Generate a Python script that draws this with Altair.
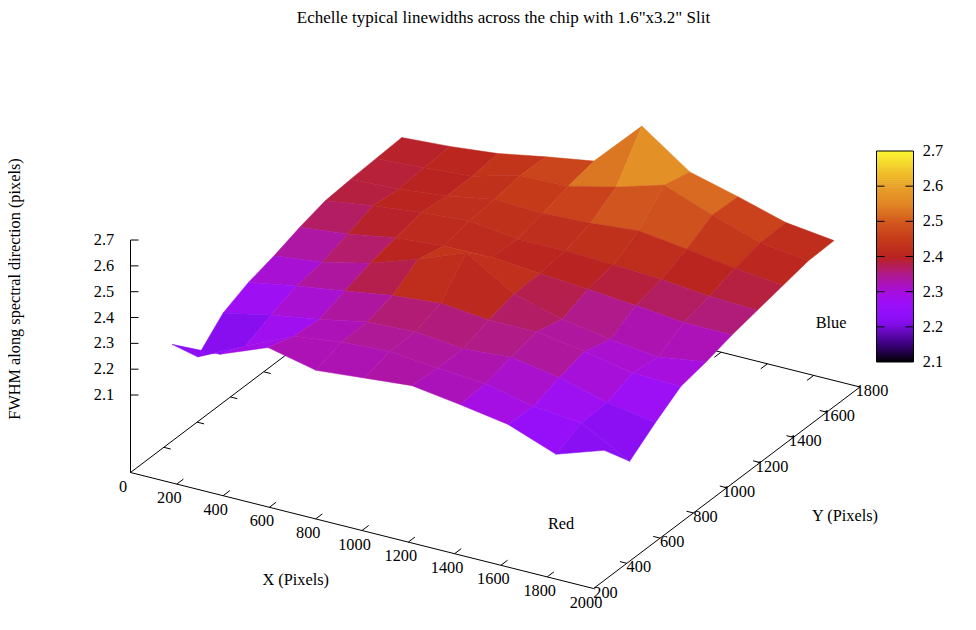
import altair as alt
import pandas as pd

# ---------- data ----------
X_GRID = [100, 307, 515, 722, 930, 1137, 1344, 1552, 1759, 1967]
Y_GRID = [310, 463, 617, 770, 923, 1077, 1230, 1383, 1536, 1690]
# rows follow Y_GRID (near to far), columns follow X_GRID
Z_ROW_0 = [2.265, 2.273, 2.346, 2.304, 2.321, 2.338, 2.311, 2.281, 2.212, 2.274]
Z_ROW_1 = [2.142, 2.230, 2.315, 2.339, 2.349, 2.332, 2.317, 2.276, 2.258, 2.157]
Z_ROW_2 = [2.237, 2.275, 2.306, 2.341, 2.350, 2.331, 2.345, 2.313, 2.263, 2.231]
Z_ROW_3 = [2.281, 2.313, 2.340, 2.369, 2.386, 2.368, 2.369, 2.339, 2.302, 2.297]
Z_ROW_4 = [2.309, 2.330, 2.373, 2.435, 2.507, 2.394, 2.343, 2.311, 2.290, 2.318]
Z_ROW_5 = [2.344, 2.365, 2.397, 2.411, 2.415, 2.398, 2.384, 2.367, 2.348, 2.346]
Z_ROW_6 = [2.372, 2.399, 2.420, 2.435, 2.411, 2.412, 2.404, 2.394, 2.375, 2.368]
Z_ROW_7 = [2.381, 2.390, 2.409, 2.443, 2.436, 2.444, 2.461, 2.437, 2.409, 2.389]
Z_ROW_8 = [2.387, 2.397, 2.411, 2.461, 2.466, 2.509, 2.563, 2.494, 2.434, 2.410]
Z_ROW_9 = [2.393, 2.405, 2.424, 2.458, 2.488, 2.670, 2.539, 2.490, 2.436, 2.413]
Z_ROWS = [Z_ROW_0, Z_ROW_1, Z_ROW_2, Z_ROW_3, Z_ROW_4, Z_ROW_5, Z_ROW_6, Z_ROW_7, Z_ROW_8, Z_ROW_9]

X_TICKS = [0, 200, 400, 600, 800, 1000, 1200, 1400, 1600, 1800, 2000]
Y_TICKS = [200, 400, 600, 800, 1000, 1200, 1400, 1600, 1800]
Z_TICKS = [2.1, 2.2, 2.3, 2.4, 2.5, 2.6, 2.7]
CB_TICKS = [2.2, 2.3, 2.4, 2.5, 2.6]
CB_LABELS = [2.1, 2.2, 2.3, 2.4, 2.5, 2.6, 2.7]

# colour bar
PAL_Z = [2.10, 2.15, 2.185, 2.21, 2.235, 2.27, 2.30, 2.325, 2.35, 2.375, 2.40, 2.45, 2.50, 2.55, 2.60, 2.65, 2.70]
PAL_C = ["#000000", "#3a0078", "#6208b8", "#820ee8", "#900ffa", "#9c0ff8", "#a60fe0", "#ac12b8", "#b01a8e",
         "#b41e58", "#b92320", "#c53a1a", "#d2581e", "#e08524", "#e8a028", "#f2c82c", "#fcf532"]

TITLE = 'Echelle typical linewidths across the chip with 1.6"x3.2" Slit'
FONT = "Liberation Serif"
FS = 16.3

# ---------- gnuplot-like view: affine projection, in page pixels ----------
W, H = 960, 614
M = 8
OX, OY = 130.5, 472.5
EX = (463 / 2000, 116 / 2000)
EY = (266.5 / 1600, -201.5 / 1600)
ZSCALE = 258.3
ZBASE = 1.8


def proj(x, y, z=ZBASE):
    return (
        OX + EX[0] * x + EY[0] * (y - 200) - M,
        OY + EX[1] * x + EY[1] * (y - 200) - ZSCALE * (z - ZBASE) - M,
    )


color_scale = alt.Scale(domain=PAL_Z, range=PAL_C, clamp=True, interpolate="rgb")

# ---------- surface quads, far to near ----------
features = []
for r in range(len(Y_GRID) - 2, -1, -1):
    for c in range(len(X_GRID) - 1):
        corners = [(r, c), (r, c + 1), (r + 1, c + 1), (r + 1, c)]
        pts = [list(proj(X_GRID[j], Y_GRID[i], Z_ROWS[i][j])) for i, j in corners]
        mean = sum(Z_ROWS[i][j] for i, j in corners) / 4
        features.append(
            {
                "type": "Feature",
                "properties": {"z": mean},
                "geometry": {"type": "Polygon", "coordinates": [pts + [pts[0]]]},
            }
        )

# ---------- axes box and ticks ----------
segs = []


def seg(a, b):
    segs.append({"x": a[0], "y": a[1], "x2": b[0], "y2": b[1]})


p00, p10 = proj(0, 200), proj(2000, 200)
p11, p01 = proj(2000, 1800), proj(0, 1800)
seg(p00, p10)
seg(p10, p11)
seg(p11, p01)
seg(p01, p00)
seg(p00, proj(0, 200, 2.7))
for v in X_TICKS[1:-1]:
    a, b = proj(v, 200), proj(v, 1800)
    seg(a, proj(v, 240))
    seg(b, proj(v, 1760))
for v in Y_TICKS[1:-1]:
    a, b = proj(2000, v), proj(0, v)
    seg(a, proj(1970, v))
    seg(b, proj(30, v))
for v in Z_TICKS:
    a = proj(0, 200, v)
    seg(a, (a[0] + 8, a[1]))

# ---------- colour bar ----------
CB_L, CB_R, CB_T, CB_B = 876.5 - M, 913.5 - M, 151 - M, 362 - M


def cb_y(v):
    return CB_B + (CB_T - CB_B) * (v - 2.1) / 0.6


N_STRIP = 105
strips = []
for i in range(N_STRIP):
    v0 = 2.1 + 0.6 * i / N_STRIP
    v1 = 2.1 + 0.6 * (i + 1) / N_STRIP
    strips.append(
        {"x": CB_L, "x2": CB_R, "y": min(CB_B, cb_y(v0) + 0.7), "y2": cb_y(v1), "v": (v0 + v1) / 2}
    )

bar_ticks = []
for v in CB_TICKS:
    bar_ticks.append({"x": CB_L, "y": cb_y(v), "x2": CB_L + 8, "y2": cb_y(v)})
    bar_ticks.append({"x": CB_R - 8, "y": cb_y(v), "x2": CB_R, "y2": cb_y(v)})

# ---------- text ----------
texts = []


def txt(x, y, s):
    texts.append({"x": x, "y": y, "t": s})


txt(295.7 - M, 580 - M, "X (Pixels)")
txt(845 - M, 515.5 - M, "Y (Pixels)")
txt(561 - M, 524 - M, "Red")
txt(831 - M, 323 - M, "Blue")
for v in X_TICKS:
    p = proj(v, 200)
    txt(p[0] - 7.5, p[1] + 14, str(v))
for v in Y_TICKS:
    p = proj(2000, v)
    txt(p[0] + 12, p[1] + 4, str(v))
for v in Z_TICKS:
    p = proj(0, 200, v)
    txt(p[0] - 26.5, p[1], f"{v:.1f}")
for v in CB_LABELS:
    txt(933 - M, cb_y(v), f"{v:.1f}")

sx = alt.Scale(domain=[0, W], range=[0, W])
sy = alt.Scale(domain=[0, H], range=[0, H])
X = alt.X("x:Q", scale=sx, axis=None)
Y = alt.Y("y:Q", scale=sy, axis=None)

lines = (
    alt.Chart(pd.DataFrame(segs))
    .mark_rule(color="black", strokeWidth=1)
    .encode(x=X, y=Y, x2="x2:Q", y2="y2:Q")
)

surface = (
    alt.Chart(alt.Data(values=features))
    .mark_geoshape(strokeWidth=0.5)
    .encode(
        fill=alt.Fill("properties.z:Q", scale=color_scale, legend=None),
        stroke=alt.Stroke("properties.z:Q", scale=color_scale, legend=None),
    )
    .project(type="identity", scale=1, translate=[0, 0])
)

bar = (
    alt.Chart(pd.DataFrame(strips))
    .mark_rect(strokeWidth=0)
    .encode(
        x=X,
        y=Y,
        x2="x2:Q",
        y2="y2:Q",
        fill=alt.Fill("v:Q", scale=color_scale, legend=None),
    )
)

frame = (
    alt.Chart(pd.DataFrame([{"x": CB_L, "x2": CB_R, "y": CB_T, "y2": CB_B}]))
    .mark_rect(fill=None, stroke="black", strokeWidth=1)
    .encode(x=X, y=Y, x2="x2:Q", y2="y2:Q")
)

bar_tick_rules = (
    alt.Chart(pd.DataFrame(bar_ticks))
    .mark_rule(color="black", strokeWidth=1)
    .encode(x=X, y=Y, x2="x2:Q", y2="y2:Q")
)

labels = (
    alt.Chart(pd.DataFrame(texts))
    .mark_text(font=FONT, fontSize=FS, color="black", baseline="middle", align="center")
    .encode(x=X, y=Y, text="t:N")
)
title_text = (
    alt.Chart(pd.DataFrame([{"x": 503.5 - M, "y": 17.5 - M, "t": TITLE}]))
    .mark_text(font=FONT, fontSize=17, color="black", baseline="middle", align="center")
    .encode(x=X, y=Y, text="t:N")
)
ylabel = (
    alt.Chart(pd.DataFrame([{"x": 15 - M, "y": 289 - M, "t": "FWHM along spectral direction (pixels)"}]))
    .mark_text(font=FONT, fontSize=FS, color="black", baseline="middle", align="center", angle=270)
    .encode(x=X, y=Y, text="t:N")
)

chart = (
    alt.layer(lines, surface, bar, frame, bar_tick_rules, labels, title_text, ylabel)
    .resolve_scale(fill="shared", stroke="shared")
    .properties(
        width=W,
        height=H,
        padding=0,
        autosize=alt.AutoSizeParams(type="none"),
        background="white",
    )
    .configure_view(stroke=None)
)

chart.save("out.html", embed_options={"renderer": "svg", "actions": False})
